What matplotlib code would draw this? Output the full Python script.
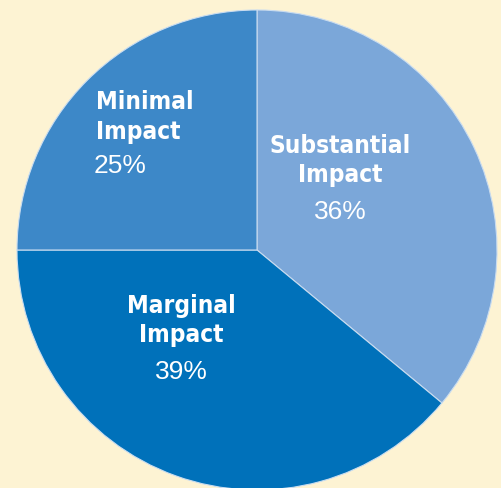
import matplotlib
matplotlib.use('Agg')
import matplotlib.pyplot as plt

# datos del grafico
categorias = ['Substantial\nImpact', 'Marginal\nImpact', 'Minimal\nImpact']
porcentajes = [36, 39, 25]
colores = ['#7BA7D9', '#0071BA', '#3D88C8']

W, H = 501, 488
cx, cy, r = 257, 250, 240  # centro y radio en pixeles

fig = plt.figure(figsize=(W / 100, H / 100), dpi=100)
fig.patch.set_facecolor('#FDF3D3')
ax = fig.add_axes([0, 0, 1, 1])
ax.set_facecolor('#FDF3D3')

ax.pie(porcentajes, colors=colores, startangle=90, counterclock=False,
       radius=1, center=(0, 0),
       wedgeprops={'edgecolor': '#C9DCF0', 'linewidth': 0.8})
ax.set_xlim(-cx / r, (W - cx) / r)
ax.set_ylim(-(H - cy) / r, cy / r)
ax.set_aspect('auto')
ax.axis('off')

# posiciones de las etiquetas (pixeles): x, alineacion, lineas base
pos = {
    0: (340, 'center', [153, 182, 219]),
    1: (181, 'center', [313, 342, 379]),
    2: (96, 'left', [109, 139, 173]),
}

for i, cat in enumerate(categorias):
    x, ha, bases = pos[i]
    l1, l2 = cat.split('\n')
    for txt, b in zip([l1, l2], bases[:2]):
        fig.text(x / W, 1 - b / H, txt, ha=ha, va='baseline', color='white',
                 fontsize=17.5, fontweight='bold', family='DejaVu Sans',
                 fontstretch='condensed')
    xp = x - 2 if ha == 'left' else x
    fig.text(xp / W, 1 - bases[2] / H, f'{porcentajes[i]}%', ha=ha,
             va='baseline', color='white', fontsize=19, family='Liberation Sans')

fig.savefig('out.png', dpi=100, facecolor=fig.get_facecolor())
